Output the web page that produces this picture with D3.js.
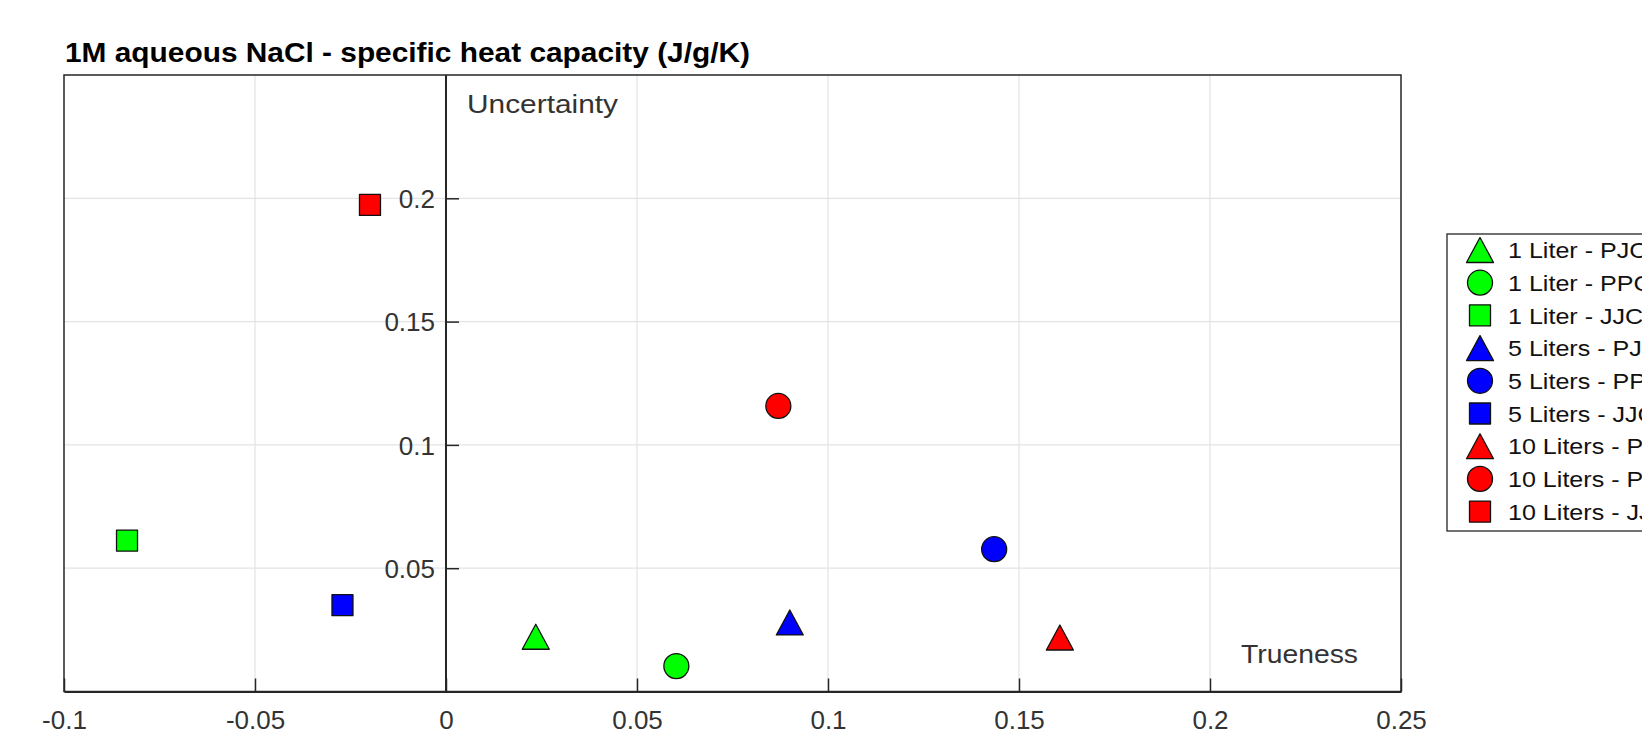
<!DOCTYPE html>
<html>
<head>
<meta charset="utf-8">
<script src="https://cdn.jsdelivr.net/npm/d3@7"></script>
<style>
  html, body { margin: 0; padding: 0; background: #ffffff; overflow: hidden; }
  svg { display: block; }
  text { font-family: "Liberation Sans", Helvetica, Arial, sans-serif; }
</style>
</head>
<body>
<svg id="chart" width="1642" height="734"></svg>
<script>
// ---- Data ----
const seriesLabels = [
  "1 Liter - PJC", "1 Liter - PPC", "1 Liter - JJC",
  "5 Liters - PJC", "5 Liters - PPC", "5 Liters - JJC",
  "10 Liters - PJC", "10 Liters - PPC", "10 Liters - JJC"
];
const seriesColors = ["#00ff00", "#00ff00", "#00ff00", "#0000ff", "#0000ff", "#0000ff", "#ff0000", "#ff0000", "#ff0000"];
const seriesShapes = ["triangle", "circle", "square", "triangle", "circle", "square", "triangle", "circle", "square"];
const trueness    = [0.0235, 0.0603, -0.0835, 0.0900, 0.1435, -0.0271, 0.1607, 0.0870, -0.0199];
const uncertainty = [0.0222, 0.0103,  0.0612, 0.0280, 0.0577,  0.0350, 0.0219, 0.1158,  0.1973];
const xTicks = [-0.1, -0.05, 0, 0.05, 0.1, 0.15, 0.2, 0.25];
const xTickLabels = ["-0.1", "-0.05", "0", "0.05", "0.1", "0.15", "0.2", "0.25"];
const yTicks = [0.05, 0.1, 0.15, 0.2];
const yTickLabels = ["0.05", "0.1", "0.15", "0.2"];
const xDomain = [-0.1, 0.25];
const yDomain = [0, 0.25];
const titleText = "1M aqueous NaCl - specific heat capacity (J/g/K)";
const yAnnot = "Uncertainty";
const xAnnot = "Trueness";

// ---- Layout ----
const plot = { left: 64, right: 1401, top: 75, bottom: 691.5 };
const axisColor = "#262626";
const gridColor = "#e3e3e3";

const svg = d3.select("#chart");
const x = d3.scaleLinear().domain(xDomain).range([plot.left, plot.right]);
const y = d3.scaleLinear().domain(yDomain).range([plot.bottom, plot.top]);

// grid
const grid = svg.append("g");
grid.selectAll("line.vg").data(xTicks.filter(v => v !== 0 && v !== xDomain[0] && v !== xDomain[1]))
  .join("line").attr("class", "vg")
  .attr("x1", d => x(d)).attr("x2", d => x(d))
  .attr("y1", plot.top).attr("y2", plot.bottom)
  .attr("stroke", gridColor).attr("stroke-width", 1.2);
grid.selectAll("line.hg").data(yTicks)
  .join("line").attr("class", "hg")
  .attr("x1", plot.left).attr("x2", plot.right)
  .attr("y1", d => y(d)).attr("y2", d => y(d))
  .attr("stroke", gridColor).attr("stroke-width", 1.2);

// box
svg.append("rect")
  .attr("x", plot.left).attr("y", plot.top)
  .attr("width", plot.right - plot.left).attr("height", plot.bottom - plot.top)
  .attr("fill", "none").attr("stroke", axisColor).attr("stroke-width", 1.5);

// x axis (at y = 0, bottom)
const xAxis = d3.axisBottom(x).tickValues(xTicks)
  .tickFormat((d, i) => xTickLabels[i])
  .tickSizeInner(-13).tickSizeOuter(0).tickPadding(19);
const gx = svg.append("g").attr("transform", `translate(0,${y(0)})`).call(xAxis);
gx.select(".domain").attr("stroke", axisColor).attr("stroke-width", 2);
gx.selectAll(".tick line").attr("stroke", axisColor).attr("stroke-width", 1.5);
gx.selectAll(".tick text").attr("fill", "#333").attr("font-size", 26);

// y axis (at x = 0)
const yAxis = d3.axisLeft(y).tickValues(yTicks)
  .tickFormat((d, i) => yTickLabels[i])
  .tickSizeInner(-13).tickSizeOuter(0).tickPadding(11);
const gy = svg.append("g").attr("transform", `translate(${x(0)},0)`).call(yAxis);
gy.select(".domain").attr("stroke", axisColor).attr("stroke-width", 2)
  .attr("d", `M0,${plot.bottom}V${plot.top}`);
gy.selectAll(".tick line").attr("stroke", axisColor).attr("stroke-width", 1.5);
gy.selectAll(".tick text").attr("fill", "#333").attr("font-size", 26).attr("dy", "0.36em");

// marker shapes
function markerPath(shape) {
  if (shape === "triangle") return "M0,-12.5L13.5,12.5L-13.5,12.5Z";
  if (shape === "square") return "M-10.5,-10.5H10.5V10.5H-10.5Z";
  return d3.symbol().type(d3.symbolCircle).size(Math.PI * 12.5 * 12.5)();
}

// points
const idx = d3.range(seriesLabels.length);
svg.append("g").selectAll("path").data(idx).join("path")
  .attr("d", i => markerPath(seriesShapes[i]))
  .attr("transform", i => `translate(${x(trueness[i])},${y(uncertainty[i])})`)
  .attr("fill", i => seriesColors[i])
  .attr("stroke", "#111").attr("stroke-width", 1.3).attr("stroke-linejoin", "round");

// annotations
svg.append("text").text(yAnnot)
  .attr("x", 467).attr("y", 113).attr("font-size", 26).attr("fill", "#333")
  .attr("textLength", 151).attr("lengthAdjust", "spacingAndGlyphs");
svg.append("text").text(xAnnot)
  .attr("x", 1241).attr("y", 663).attr("font-size", 26).attr("fill", "#333")
  .attr("textLength", 117).attr("lengthAdjust", "spacingAndGlyphs");

// title
svg.append("text").text(titleText)
  .attr("x", 65).attr("y", 62).attr("font-size", 27).attr("font-weight", "bold").attr("fill", "#000")
  .attr("textLength", 685).attr("lengthAdjust", "spacingAndGlyphs");

// legend
const leg = { left: 1447, top: 234, bottom: 531, right: 1700, markerX: 1480, textX: 1508, row0: 250, rowStep: 32.7 };
svg.append("rect")
  .attr("x", leg.left).attr("y", leg.top)
  .attr("width", leg.right - leg.left).attr("height", leg.bottom - leg.top)
  .attr("fill", "#fff").attr("stroke", axisColor).attr("stroke-width", 1.3);
const items = svg.append("g").selectAll("g").data(idx).join("g")
  .attr("transform", i => `translate(0,${leg.row0 + i * leg.rowStep})`);
items.append("path")
  .attr("d", i => markerPath(seriesShapes[i]))
  .attr("transform", `translate(${leg.markerX},0)`)
  .attr("fill", i => seriesColors[i])
  .attr("stroke", "#111").attr("stroke-width", 1.3).attr("stroke-linejoin", "round");
items.append("text")
  .attr("x", leg.textX).attr("y", 0).attr("dy", "0.37em")
  .attr("font-size", 22).attr("fill", "#111")
  .text(i => seriesLabels[i])
  .each(function () {
    const len = this.getComputedTextLength();
    d3.select(this).attr("textLength", len * 1.14).attr("lengthAdjust", "spacingAndGlyphs");
  });
</script>
</body>
</html>
